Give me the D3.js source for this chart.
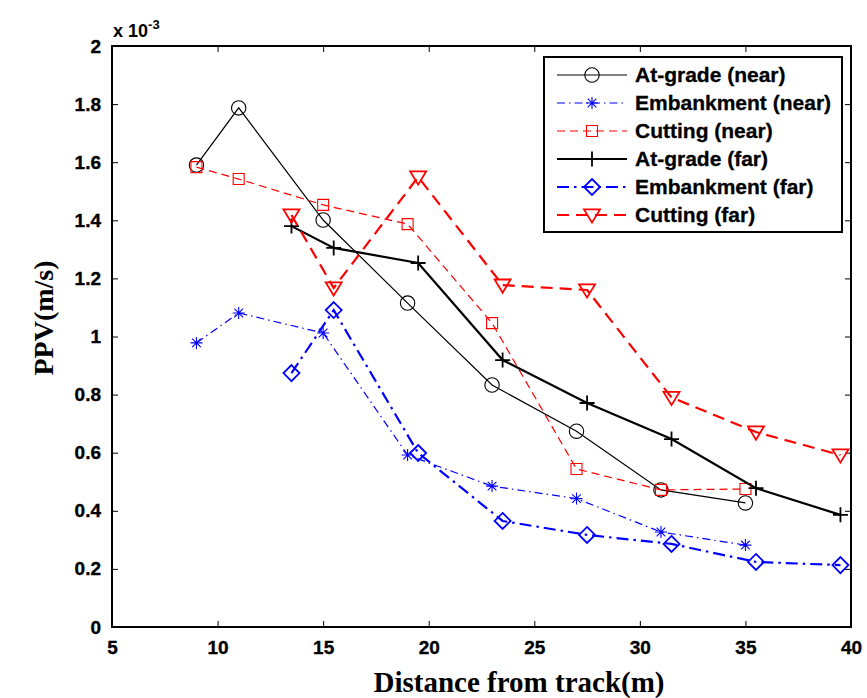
<!DOCTYPE html>
<html><head><meta charset="utf-8">
<script src="https://cdn.jsdelivr.net/npm/d3@7"></script>
<style>body{margin:0;background:#fff}</style>
</head><body><svg id="c" width="867" height="698"></svg>
<script>
// Data (PPV in units of 1e-3 m/s)
const distNear = [9, 11, 15, 19, 23, 27, 31, 35];
const distFar = [13.5, 15.5, 19.5, 23.5, 27.5, 31.5, 35.5, 39.5];
const atGradeNear = [1.590, 1.787, 1.401, 1.115, 0.833, 0.674, 0.472, 0.427];
const embankmentNear = [0.978, 1.081, 1.012, 0.592, 0.485, 0.442, 0.327, 0.282];
const cuttingNear = [1.583, 1.542, 1.453, 1.387, 1.046, 0.544, 0.472, 0.475];
const atGradeFar = [1.380, 1.305, 1.253, 0.919, 0.771, 0.647, 0.478, 0.386];
const embankmentFar = [0.874, 1.091, 0.599, 0.365, 0.317, 0.286, 0.224, 0.213];
const cuttingFar = [1.418, 1.167, 1.549, 1.177, 1.160, 0.790, 0.671, 0.592];
const seriesNames = ["At-grade (near)", "Embankment (near)", "Cutting (near)", "At-grade (far)", "Embankment (far)", "Cutting (far)"];
const xTicks = [5, 10, 15, 20, 25, 30, 35, 40];
const yTicks = [0, 0.2, 0.4, 0.6, 0.8, 1, 1.2, 1.4, 1.6, 1.8, 2];
const yTickLabels = ["0", "0.2", "0.4", "0.6", "0.8", "1", "1.2", "1.4", "1.6", "1.8", "2"];
const xLabel = "Distance from track(m)";
const yLabel = "PPV(m/s)";

const styles = [
  {color:"#000", width:1.2, dash:null, marker:"circle", ms:7.2},
  {color:"#0000ff", width:1.2, dash:"8,4,1.5,4", marker:"star", ms:6},
  {color:"#ff0000", width:1.2, dash:"8,5", marker:"square", ms:5.5},
  {color:"#000", width:2.2, dash:null, marker:"plus", ms:7.5},
  {color:"#0000ff", width:2.2, dash:"12,5,2.5,5", marker:"diamond", ms:8},
  {color:"#ff0000", width:2.2, dash:"12,7", marker:"tri", ms:8}
];
const series = [
  {x: distNear, y: atGradeNear},
  {x: distNear, y: embankmentNear},
  {x: distNear, y: cuttingNear},
  {x: distFar, y: atGradeFar},
  {x: distFar, y: embankmentFar},
  {x: distFar, y: cuttingFar}
];

const svg = d3.select("#c");
const m = {l:112, r:851, t:46, b:627};
const x = d3.scaleLinear().domain([5, 40]).range([m.l, m.r]);
const y = d3.scaleLinear().domain([0, 2]).range([m.b, m.t]);

function markerPath(type, s) {
  switch (type) {
    case "circle": return `M${s},0A${s},${s} 0 1,1 ${-s},0A${s},${s} 0 1,1 ${s},0Z`;
    case "square": return `M${-s},${-s}H${s}V${s}H${-s}Z`;
    case "plus": return `M${-s},0H${s}M0,${-s}V${s}`;
    case "star": { const d = s*0.72; return `M${-s},0H${s}M0,${-s}V${s}M${-d},${-d}L${d},${d}M${-d},${d}L${d},${-d}`; }
    case "diamond": return `M0,${-s}L${s},0L0,${s}L${-s},0Z`;
    case "tri": return `M${-s},${-s*0.7}L${s},${-s*0.7}L0,${s*0.95}Z`;
  }
}

const fontSans = "'Liberation Sans', Arial, sans-serif";
const fontSerif = "'Liberation Serif', 'Times New Roman', serif";

// Axes
const gx = svg.append("g").attr("transform", `translate(0,${m.b})`)
  .call(d3.axisBottom(x).tickValues(xTicks).tickSize(-6).tickPadding(14).tickFormat(d3.format("d")));
const gxt = svg.append("g").attr("transform", `translate(0,${m.t})`)
  .call(d3.axisTop(x).tickValues(xTicks).tickSize(-6).tickFormat(""));
const gy = svg.append("g").attr("transform", `translate(${m.l},0)`)
  .call(d3.axisLeft(y).tickValues(yTicks).tickSize(-6).tickPadding(11).tickFormat((d,i) => yTickLabels[i]));
const gyr = svg.append("g").attr("transform", `translate(${m.r},0)`)
  .call(d3.axisRight(y).tickValues(yTicks).tickSize(-6).tickFormat(""));
[gx, gxt, gy, gyr].forEach(g => {
  g.select(".domain").remove();
  g.selectAll(".tick line").attr("stroke", "#000").attr("stroke-width", 1);
  g.selectAll("text").attr("font-family", fontSans).attr("font-weight", "bold").attr("font-size", 19)
    .attr("fill", "#000").attr("stroke", "#000").attr("stroke-width", 0.35);
});

svg.append("rect").attr("x", m.l).attr("y", m.t).attr("width", m.r - m.l).attr("height", m.b - m.t)
  .attr("fill", "none").attr("stroke", "#000").attr("stroke-width", 2);

// exponent
const ex = svg.append("text").attr("x", m.l + 1).attr("y", 37).attr("font-family", fontSans)
  .attr("font-weight", "bold").attr("font-size", 18).attr("fill", "#000");
ex.append("tspan").text("x 10");
ex.append("tspan").attr("dy", -8).attr("font-size", 13).text("-3");

// series
const line = d3.line().x(d => x(d[0])).y(d => y(d[1]));
series.forEach((s, i) => {
  const st = styles[i];
  const pts = s.x.map((xv, j) => [xv, s.y[j]]);
  svg.append("path").attr("d", line(pts)).attr("fill", "none").attr("stroke", st.color)
    .attr("stroke-width", st.width).attr("stroke-dasharray", st.dash);
  svg.append("g").selectAll("path").data(pts).join("path")
    .attr("transform", d => `translate(${x(d[0])},${y(d[1])})`)
    .attr("d", markerPath(st.marker, st.ms)).attr("fill", "none")
    .attr("stroke", st.color).attr("stroke-width", i < 3 ? 1.1 : 1.8);
});

// legend
const lg = svg.append("g");
lg.append("rect").attr("x", 544).attr("y", 57).attr("width", 298).attr("height", 175)
  .attr("fill", "#fff").attr("stroke", "#000").attr("stroke-width", 2);
seriesNames.forEach((name, i) => {
  const st = styles[i];
  const yy = 75 + i * 28;
  lg.append("line").attr("x1", 557).attr("x2", 627).attr("y1", yy).attr("y2", yy)
    .attr("stroke", st.color).attr("stroke-width", st.width).attr("stroke-dasharray", st.dash);
  lg.append("path").attr("transform", `translate(592,${yy})`).attr("d", markerPath(st.marker, st.ms))
    .attr("fill", "none").attr("stroke", st.color).attr("stroke-width", i < 3 ? 1.1 : 1.8);
  lg.append("text").attr("x", 635).attr("y", yy + 7).attr("font-family", fontSans)
    .attr("font-weight", "bold").attr("font-size", 21).attr("fill", "#000")
    .attr("stroke", "#000").attr("stroke-width", 0.3).text(name);
});

// axis titles
svg.append("text").attr("x", 519).attr("y", 692).attr("text-anchor", "middle")
  .attr("font-family", fontSerif).attr("font-weight", "bold").attr("font-size", 29).attr("fill", "#000").text(xLabel);
svg.append("text").attr("transform", "translate(53,318) rotate(-90)").attr("text-anchor", "middle")
  .attr("font-family", fontSerif).attr("font-weight", "bold").attr("font-size", 28).attr("fill", "#000").text(yLabel);
</script></body></html>
